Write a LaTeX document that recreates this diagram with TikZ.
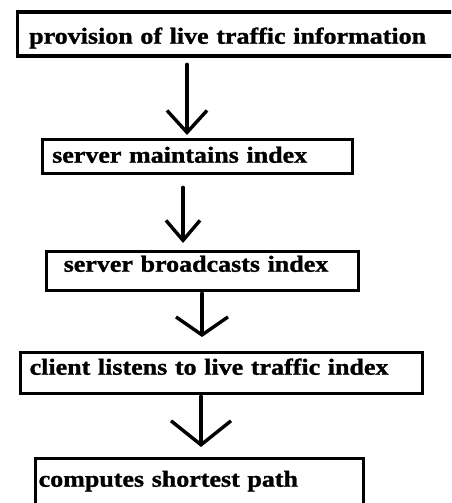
\documentclass[tikz,border=0pt]{standalone}
\usepackage{fontspec}
\setmainfont{Liberation Serif}
\newfontfamily\cajafont{Liberation Serif}[FakeStretch=1.13, FakeBold=1.2]
\usetikzlibrary{arrows.meta}

\tikzset{
	caja/.style={draw, line width=3.4pt, rectangle, anchor=north west, align=left,
		inner ysep=0pt, font=\cajafont\bfseries\fontsize{23}{26}\selectfont},
	flecha/.style={line width=3.4pt, line cap=round}
}

\begin{document}
\begin{tikzpicture}[x=1pt, y=-1pt]
		% Marco de la imagen: 451 x 503
		\clip (0, 0) rectangle (451, 503);

		% Cajas: esquina superior izquierda, ancho y alto del texto
		\node[caja, inner xsep=12pt, text width=430.5pt, text height=31.5pt, text depth=12.5pt] (info) at (15.5, 10.5) {provision of live traffic information};
		\node[caja, inner xsep=10pt, text width=290pt, text height=23.5pt, text depth=10.5pt] (indice) at (40.5, 137.5) {server maintains index};
		\node[caja, inner xsep=17.5pt, text width=277pt, text height=20.5pt, text depth=18.5pt] (difusion) at (44.5, 249.5) {server broadcasts index};
		\node[caja, inner xsep=9.5pt, text width=383pt, text height=22.5pt, text depth=18.5pt] (cliente) at (18.5, 350.5) {client listens to live traffic index};
		\node[caja, inner xsep=3.5pt, text width=321pt, text height=28.5pt, text depth=40pt] (ruta) at (33.5, 456.5) {computes shortest path};

		% Flechas entre cajas
		\draw[flecha, -{Straight Barb[length=22pt, width=40pt]}] ([xshift=171.5pt, yshift=-6.5pt]info.south west) -- ([xshift=146.5pt, yshift=2.5pt]indice.north west); % primera
		\draw[flecha, -{Straight Barb[length=20pt, width=34pt]}] ([xshift=142.5pt, yshift=-12.5pt]indice.south west) -- ([xshift=138.5pt, yshift=6.5pt]difusion.north west); % segunda
		\draw[flecha, -{Straight Barb[length=18pt, width=52pt]}] ([xshift=157.5pt, yshift=-1.5pt]difusion.south west) -- ([xshift=183.5pt, yshift=13.5pt]cliente.north west); % tercera
		\draw[flecha, -{Straight Barb[length=24pt, width=60pt]}] ([xshift=182.5pt, yshift=-1.5pt]cliente.south west) -- ([xshift=167.5pt, yshift=9.5pt]ruta.north west); % cuarta
	\end{tikzpicture}
\end{document}
